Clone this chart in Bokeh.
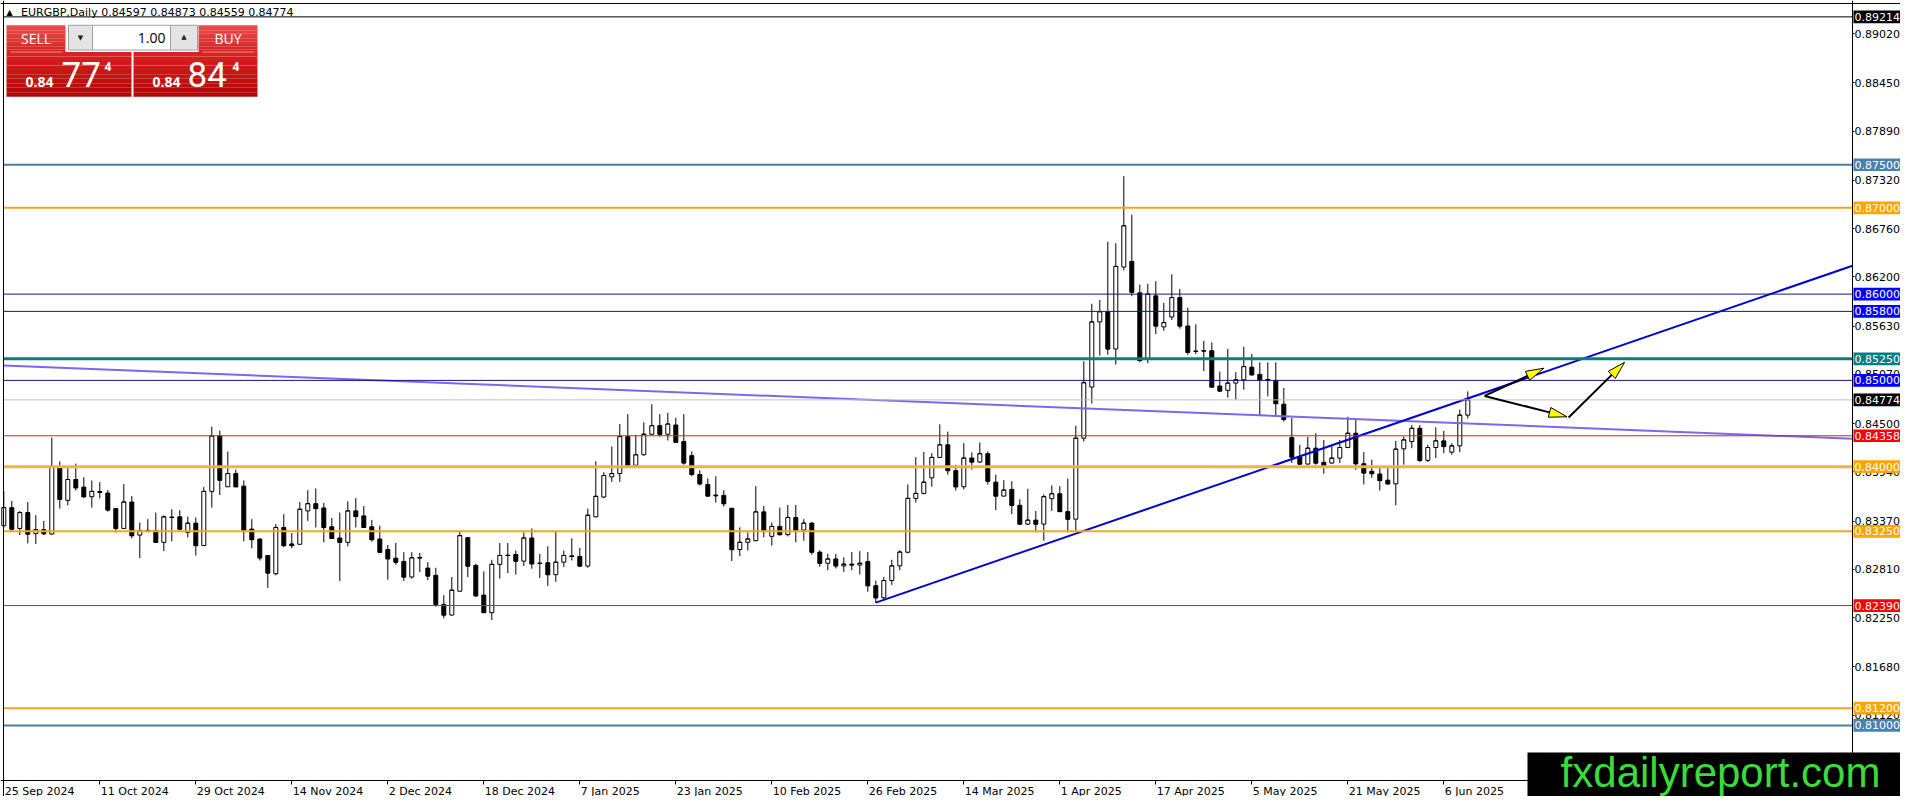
from bokeh.plotting import figure
from bokeh.models import (Range1d, FixedTicker, PrintfTickFormatter, Span, Label,
                          BoxAnnotation, ColumnDataSource)
from bokeh.embed import file_html
from bokeh.resources import INLINE

# ---------------- data ----------------
dates = ["25 Sep 2024", "11 Oct 2024", "29 Oct 2024", "14 Nov 2024", "2 Dec 2024",
         "18 Dec 2024", "7 Jan 2025", "23 Jan 2025", "10 Feb 2025", "26 Feb 2025",
         "14 Mar 2025", "1 Apr 2025", "17 Apr 2025", "5 May 2025", "21 May 2025", "6 Jun 2025"]
date_bars = [0, 12, 24, 36, 48, 60, 72, 84, 96, 108, 120, 132, 144, 156, 168, 180]

opens = [0.83315, 0.83525, 0.83284, 0.83468, 0.83223, 0.83269, 0.83219, 0.83996, 0.83609, 0.83851,
         0.83763, 0.83652, 0.83713, 0.83694, 0.83514, 0.83284, 0.83590, 0.83207, 0.83253, 0.83257,
         0.83123, 0.83410, 0.83418, 0.83238, 0.83345, 0.83085, 0.83713, 0.84356, 0.83767, 0.83920,
         0.83774, 0.83276, 0.83161, 0.82970, 0.82759, 0.83295, 0.83104, 0.83100, 0.83487, 0.83571,
         0.83521, 0.83303, 0.83173, 0.83123, 0.83487, 0.83429, 0.83303, 0.83161, 0.83039, 0.82939,
         0.82901, 0.82721, 0.82939, 0.82824, 0.82740, 0.82403, 0.82280, 0.82556, 0.83177, 0.82855,
         0.82511, 0.82308, 0.82867, 0.82974, 0.82982, 0.82905, 0.83173, 0.82882, 0.82886, 0.82748,
         0.82893, 0.82966, 0.82959, 0.82848, 0.83418, 0.83648, 0.83882, 0.83920, 0.84349, 0.84016,
         0.84138, 0.84376, 0.84475, 0.84376, 0.84483, 0.84291, 0.84127, 0.83909, 0.83794, 0.83671,
         0.83667, 0.83518, 0.83039, 0.83123, 0.83142, 0.83476, 0.83192, 0.83307, 0.83212, 0.83411,
         0.83265, 0.83345, 0.83009, 0.82880, 0.82930, 0.82850, 0.82870, 0.82860, 0.82900, 0.82620,
         0.82480, 0.82680, 0.82850, 0.83008, 0.83632, 0.83690, 0.83870, 0.84107, 0.84253, 0.83954,
         0.83767, 0.84100, 0.84054, 0.84150, 0.83820, 0.83659, 0.83736, 0.83552, 0.83334, 0.83380,
         0.83334, 0.83629, 0.83686, 0.83479, 0.83391, 0.84330, 0.84923, 0.85678, 0.85796, 0.85364,
         0.86314, 0.86379, 0.86015, 0.85248, 0.85980, 0.85620, 0.85735, 0.85960, 0.85631, 0.85340,
         0.85344, 0.85344, 0.84934, 0.84885, 0.84969, 0.85007, 0.85153, 0.85069, 0.85010, 0.84999,
         0.84724, 0.84337, 0.84111, 0.84030, 0.84214, 0.84050, 0.84042, 0.84099, 0.84222, 0.84387,
         0.84034, 0.83946, 0.83915, 0.83843, 0.83801, 0.84207, 0.84291, 0.84444, 0.84073, 0.84222,
         0.84299, 0.84168, 0.84241, 0.84597]
highs = [0.83717, 0.83602, 0.83487, 0.83590, 0.83437, 0.83372, 0.84337, 0.84061, 0.83996, 0.84035,
         0.83878, 0.83839, 0.83820, 0.83728, 0.83521, 0.83797, 0.83659, 0.83353, 0.83391, 0.83468,
         0.83437, 0.83506, 0.83495, 0.83422, 0.83410, 0.83763, 0.84464, 0.84418, 0.84176, 0.83966,
         0.83839, 0.83391, 0.83169, 0.82970, 0.83334, 0.83449, 0.83230, 0.83590, 0.83728, 0.83747,
         0.83579, 0.83406, 0.83468, 0.83598, 0.83636, 0.83544, 0.83383, 0.83315, 0.83092, 0.83115,
         0.83008, 0.83008, 0.83000, 0.82893, 0.82828, 0.82510, 0.82721, 0.83257, 0.83177, 0.82874,
         0.82786, 0.82920, 0.83116, 0.83116, 0.83028, 0.83238, 0.83284, 0.82989, 0.83077, 0.83246,
         0.83028, 0.83169, 0.83058, 0.83514, 0.84062, 0.83935, 0.84234, 0.84494, 0.84609, 0.84368,
         0.84514, 0.84724, 0.84609, 0.84625, 0.84567, 0.84609, 0.84177, 0.83958, 0.83863, 0.83889,
         0.83728, 0.83518, 0.83296, 0.83238, 0.83774, 0.83545, 0.83353, 0.83526, 0.83556, 0.83556,
         0.83391, 0.83360, 0.83030, 0.82990, 0.82990, 0.82950, 0.83010, 0.83020, 0.83010, 0.82680,
         0.82720, 0.82920, 0.83030, 0.83793, 0.84111, 0.84169, 0.84157, 0.84490, 0.84406, 0.84023,
         0.84272, 0.84165, 0.84280, 0.84176, 0.83908, 0.83843, 0.83832, 0.83621, 0.83744, 0.83487,
         0.83678, 0.83782, 0.83774, 0.83862, 0.84475, 0.85222, 0.85888, 0.85931, 0.86608, 0.86589,
         0.87367, 0.86922, 0.86110, 0.86120, 0.86150, 0.85900, 0.86230, 0.86060, 0.85842, 0.85650,
         0.85459, 0.85440, 0.85103, 0.85363, 0.85095, 0.85390, 0.85306, 0.85210, 0.85210, 0.85210,
         0.84911, 0.84567, 0.84253, 0.84348, 0.84387, 0.84310, 0.84241, 0.84310, 0.84578, 0.84540,
         0.84168, 0.84080, 0.83992, 0.84004, 0.84299, 0.84348, 0.84482, 0.84482, 0.84253, 0.84456,
         0.84413, 0.84272, 0.84662, 0.84873]
lows = [0.83295, 0.83257, 0.83207, 0.83111, 0.83104, 0.83207, 0.83211, 0.83514, 0.83552, 0.83724,
        0.83636, 0.83525, 0.83632, 0.83479, 0.83238, 0.83276, 0.83169, 0.82939, 0.83238, 0.83123,
        0.83020, 0.83135, 0.83265, 0.83180, 0.82970, 0.83085, 0.83525, 0.83671, 0.83767, 0.83767,
        0.83135, 0.83054, 0.82912, 0.82595, 0.82740, 0.83066, 0.83054, 0.83100, 0.83372, 0.83295,
        0.83123, 0.83161, 0.82675, 0.83077, 0.83295, 0.83295, 0.83131, 0.82997, 0.82690, 0.82863,
        0.82675, 0.82702, 0.82778, 0.82683, 0.82376, 0.82242, 0.82273, 0.82549, 0.82721, 0.82491,
        0.82308, 0.82223, 0.82702, 0.82767, 0.82748, 0.82848, 0.82817, 0.82710, 0.82618, 0.82664,
        0.82836, 0.82913, 0.82836, 0.82828, 0.83411, 0.83633, 0.83824, 0.83824, 0.84016, 0.83993,
        0.84127, 0.84368, 0.84349, 0.84303, 0.84284, 0.84023, 0.83889, 0.83782, 0.83648, 0.83583,
        0.83537, 0.82905, 0.82963, 0.83028, 0.83135, 0.83181, 0.83085, 0.83200, 0.83192, 0.83123,
        0.83142, 0.82980, 0.82840, 0.82800, 0.82820, 0.82780, 0.82800, 0.82750, 0.82550, 0.82420,
        0.82450, 0.82630, 0.82800, 0.82995, 0.83583, 0.83678, 0.83767, 0.84100, 0.83908, 0.83724,
        0.83736, 0.83966, 0.84042, 0.83793, 0.83495, 0.83652, 0.83449, 0.83326, 0.83322, 0.83238,
        0.83142, 0.83487, 0.83479, 0.83238, 0.83257, 0.84291, 0.84732, 0.85287, 0.85299, 0.85184,
        0.86275, 0.85976, 0.85211, 0.85200, 0.85536, 0.85574, 0.85700, 0.85600, 0.85298, 0.85306,
        0.85107, 0.84915, 0.84865, 0.84800, 0.84777, 0.84892, 0.85057, 0.84597, 0.84816, 0.84597,
        0.84521, 0.84042, 0.84023, 0.84023, 0.84023, 0.83919, 0.84034, 0.84042, 0.84214, 0.83965,
        0.83793, 0.83870, 0.83724, 0.83793, 0.83552, 0.84023, 0.84214, 0.84053, 0.84053, 0.84099,
        0.84157, 0.84138, 0.84168, 0.84559]
closes = [0.83525, 0.83276, 0.83468, 0.83219, 0.83269, 0.83223, 0.84004, 0.83621, 0.83851, 0.83755,
          0.83652, 0.83713, 0.83701, 0.83498, 0.83284, 0.83590, 0.83200, 0.83257, 0.83261, 0.83123,
          0.83418, 0.83414, 0.83276, 0.83345, 0.83085, 0.83713, 0.84356, 0.83843, 0.83920, 0.83767,
          0.83265, 0.83154, 0.82943, 0.82767, 0.83295, 0.83085, 0.83085, 0.83506, 0.83571, 0.83514,
          0.83295, 0.83169, 0.83123, 0.83487, 0.83422, 0.83295, 0.83154, 0.83008, 0.82932, 0.82893,
          0.82721, 0.82943, 0.82947, 0.82732, 0.82403, 0.82280, 0.82568, 0.83200, 0.82847, 0.82503,
          0.82308, 0.82867, 0.82970, 0.82970, 0.82905, 0.83173, 0.82874, 0.82878, 0.82748, 0.82893,
          0.82970, 0.82959, 0.82848, 0.83437, 0.83656, 0.83897, 0.83920, 0.84349, 0.84016, 0.84138,
          0.84376, 0.84475, 0.84376, 0.84494, 0.84284, 0.84043, 0.83909, 0.83801, 0.83660, 0.83663,
          0.83571, 0.83039, 0.83123, 0.83162, 0.83476, 0.83265, 0.83307, 0.83212, 0.83411, 0.83265,
          0.83345, 0.83009, 0.82880, 0.82930, 0.82850, 0.82870, 0.82860, 0.82880, 0.82620, 0.82480,
          0.82680, 0.82850, 0.83010, 0.83632, 0.83690, 0.83820, 0.84107, 0.84253, 0.83954, 0.83767,
          0.84100, 0.84054, 0.84150, 0.83832, 0.83659, 0.83728, 0.83552, 0.83334, 0.83380, 0.83334,
          0.83652, 0.83686, 0.83479, 0.83391, 0.84330, 0.84973, 0.85678, 0.85796, 0.85364, 0.86321,
          0.86792, 0.86022, 0.85230, 0.86000, 0.85631, 0.85670, 0.85960, 0.85631, 0.85325, 0.85336,
          0.85340, 0.84923, 0.84877, 0.84969, 0.85007, 0.85160, 0.85065, 0.85007, 0.85003, 0.84731,
          0.84547, 0.84111, 0.84030, 0.84214, 0.84042, 0.84011, 0.84099, 0.84222, 0.84387, 0.84034,
          0.83927, 0.83919, 0.83839, 0.83801, 0.84203, 0.84310, 0.84444, 0.84073, 0.84222, 0.84299,
          0.84233, 0.84241, 0.84597, 0.84774]

price_ticks = [0.89020, 0.88450, 0.87890, 0.87320, 0.86760, 0.86200, 0.85630, 0.85070,
               0.84500, 0.83940, 0.83370, 0.82810, 0.82250, 0.81680, 0.81120, 0.80550]

level_prices = [0.89214, 0.87500, 0.87000, 0.86000, 0.85800, 0.85250, 0.85000, 0.84774,
                0.84358, 0.84000, 0.83250, 0.82390, 0.81200, 0.81000]
level_line_colors = ["#000000", "#4A80A8", "#F2A623", "#14148C", "#14148C", "#0E7C78", "#14148C",
                     "#C0C0C0", "#C8282C", "#EFB443", "#F2A623", "#C8282C", "#F2A623", "#4A80A8"]
level_line_widths = [1, 2, 2, 1, 1, 3, 1, 1, 1, 3, 2, 1, 2, 2]
level_label_colors = ["#000000", "#4682B4", "#FFA500", "#0000FF", "#0000FF", "#008080", "#0000FF",
                      "#000000", "#FF0000", "#FFA500", "#FFA500", "#FF0000", "#FFA500", "#4682B4"]

trend_x = [109, 183]            # rising support line (bar index)
trend_y = [0.82424, 0.84791]
channel_x = [0, 183]            # falling line
channel_y = [0.85172, 0.84500]

arrow_x0 = [185.1, 185.1, 195.6]
arrow_y0 = [0.84820, 0.84820, 0.84570]
arrow_x1 = [192.5, 195.4, 202.6]
arrow_y1 = [0.85141, 0.84578, 0.85210]

title_text = "EURGBP,Daily  0.84597 0.84873 0.84559 0.84774"
lot_text = "1.00"
sell_price = ("0.84", "77", "4")
buy_price = ("0.84", "84", "4")
watermark = "fxdailyreport.com"

# ---------------- layout helpers (reference pixel -> data units) ----------------
def X(px):
    return (px - 3.3) / 8.0


def Y(py):
    return 0.875 + (165.7 - py) / 8704.0


PX_Y = 1.0 / 8704.0            # one reference pixel in price units

FIG_W, FIG_H = 1900, 796
SY = 780.0 / 787.0             # slight vertical squeeze so the date row fits
xa0, xa1 = X(0), X(FIG_W)
ya0, ya1 = Y(FIG_H / SY), Y(0)


def Yf(fy):                     # figure pixel row -> price units
    return Y(fy / SY)


xl, xr = X(3), X(1852)      # chart area left / right (price axis)
yb = Y(787)                 # chart area bottom (time axis)

p = figure(width=FIG_W, height=FIG_H, x_range=Range1d(xa0, xa1), y_range=Range1d(ya0, ya1),
           output_backend="svg", toolbar_location=None, y_axis_location="right",
           x_axis_location="below", min_border=0)
p.grid.visible = False
p.outline_line_color = None
p.background_fill_color = "white"
p.border_fill_color = "white"

FONT = "DejaVu Sans"
# price axis
p.yaxis.fixed_location = xr
p.yaxis.ticker = FixedTicker(ticks=price_ticks)
p.yaxis.formatter = PrintfTickFormatter(format="%.5f")
p.yaxis.major_label_text_font = FONT
p.yaxis.major_label_text_font_size = "11px"
p.yaxis.major_label_text_color = "black"
# time axis: tick marks from the axis, labels start at their tick (terminal style)
p.xaxis.fixed_location = yb
p.xaxis.ticker = FixedTicker(ticks=date_bars)
p.xaxis.major_label_overrides = {b: "" for b in date_bars}
for ax in (p.xaxis, p.yaxis):
    ax.axis_line_color = "black"
    ax.major_tick_line_color = "black"
    ax.major_tick_in = 0
    ax.minor_tick_out = 0
    ax.minor_tick_in = 0
p.xaxis.major_tick_out = 4
p.yaxis.major_tick_out = 2
p.yaxis.major_label_standoff = 0
for b, d in zip(date_bars, dates):
    p.add_layout(Label(x=b, y=Yf(790.5), text=d, text_font=FONT, text_font_size="11px",
                       text_color="black", text_align="left", text_baseline="middle",
                       x_offset=1))

# window borders
p.add_layout(Span(location=Y(3), dimension="width", line_color="black", line_width=1))
p.add_layout(Span(location=xl, dimension="height", line_color="black", line_width=1))

# ---------------- candles ----------------
idx = list(range(len(opens)))
src = ColumnDataSource(dict(
    x=idx, o=opens, h=highs, l=lows, c=closes,
    top=[max(o, c) for o, c in zip(opens, closes)],
    bot=[min(o, c) for o, c in zip(opens, closes)],
    fill=["white" if c >= o else "black" for o, c in zip(opens, closes)],
    xl=[i - 0.25 for i in idx], xr=[i + 0.25 for i in idx],
))
p.segment(x0="x", y0="l", x1="x", y1="h", source=src, line_color="black", line_width=1)
p.vbar(x="x", width=0.5, top="top", bottom="bot", source=src,
       fill_color="fill", line_color="black", line_width=1)
p.segment(x0="xl", y0="c", x1="xr", y1="c", source=src, line_color="black", line_width=1)

# ---------------- trend lines ----------------
ch_slope = (channel_y[1] - channel_y[0]) / (channel_x[1] - channel_x[0])
p.line([xl, xr], [channel_y[0] + ch_slope * (xl - channel_x[0]),
                  channel_y[0] + ch_slope * (xr - channel_x[0])],
       line_color="#7B68EE", line_width=2)
tr_slope = (trend_y[1] - trend_y[0]) / (trend_x[1] - trend_x[0])
p.line([trend_x[0], xr], [trend_y[0], trend_y[0] + tr_slope * (xr - trend_x[0])],
       line_color="#0000CD", line_width=2)

# ---------------- horizontal levels ----------------
n_lv = len(level_prices)
p.segment(x0=[xl] * n_lv, y0=level_prices, x1=[xr] * n_lv, y1=level_prices,
          line_color=level_line_colors, line_width=level_line_widths)

# ---------------- arrows ----------------
kx = FIG_W / (xa1 - xa0)
ky = FIG_H / (ya1 - ya0)
hx, hy = [], []
for xa, ya, xb, yb_ in zip(arrow_x0, arrow_y0, arrow_x1, arrow_y1):
    dx, dy = (xb - xa) * kx, (yb_ - ya) * ky
    d = (dx * dx + dy * dy) ** 0.5
    ux, uy = dx / d, dy / d
    L, Wd = 18.0, 10.0
    bx, by = xb - ux * L / kx, yb_ - uy * L / ky
    px_, py_ = -uy * Wd / 2, ux * Wd / 2
    p.line([xa, bx], [ya, by], line_color="black", line_width=2)
    hx.append([xb, bx + px_ / kx, bx - px_ / kx])
    hy.append([yb_, by + py_ / ky, by - py_ / ky])
p.patches(hx, hy, fill_color="#FFFF00", line_color="black", line_width=1)

# ---------------- price labels on the axis ----------------
for price, col in zip(level_prices, level_label_colors):
    p.add_layout(BoxAnnotation(left=X(1853), right=xa1, bottom=price - 6.4 * PX_Y,
                               top=price + 6.4 * PX_Y, fill_color=col, fill_alpha=1.0,
                               line_color=None))
    p.add_layout(Label(x=X(1854), y=price, text=f"{price:.5f}", text_font=FONT,
                       text_font_size="11px", text_color="white", text_baseline="middle",
                       text_align="left"))

# ---------------- title ----------------
p.add_layout(Label(x=X(6), y=Y(12.5), text="\u25B2", text_font=FONT, text_font_size="8px",
                   text_color="black", text_baseline="middle", text_align="left"))
p.add_layout(Label(x=X(20.5), y=Y(12.5), text=title_text, text_font=FONT, text_font_size="11px",
                   text_color="black", text_baseline="middle", text_align="left"))

# ---------------- one-click trading panel ----------------
def hexmix(c1, c2, t):
    a = [int(c1[i:i + 2], 16) for i in (1, 3, 5)]
    b = [int(c2[i:i + 2], 16) for i in (1, 3, 5)]
    return "#%02x%02x%02x" % tuple(round(a[k] + (b[k] - a[k]) * t) for k in range(3))


ql, qr, qt, qb, qc = [], [], [], [], []


def grad(x_a, x_b, y_a0, y_b0, ctop, cbot, n=10):
    for i in range(n):
        y_a = y_a0 + (y_b0 - y_a0) * i / n
        y_b = y_a0 + (y_b0 - y_a0) * (i + 1) / n
        ql.append(X(x_a)); qr.append(X(x_b)); qt.append(Y(y_a)); qb.append(Y(y_b))
        qc.append(hexmix(ctop, cbot, i / (n - 1)))


grad(6, 65, 25, 52, "#E84A4A", "#D42626")
grad(198, 257, 25, 52, "#E84A4A", "#D42626")
grad(6, 131, 52, 97, "#DA2020", "#B20808")
grad(133, 257, 52, 97, "#DA2020", "#B20808")
p.quad(left=ql, right=qr, top=qt, bottom=qb, fill_color=qc, line_color=None)
p.segment(x0=[X(10), X(202)], y0=[Y(52), Y(52)], x1=[X(62), X(254)], y1=[Y(52), Y(52)],
          line_color="#F08A8A", line_width=1)
p.quad(left=[X(68), X(92), X(170)], right=[X(92), X(170), X(197)],
       top=[Y(25)] * 3, bottom=[Y(50)] * 3,
       fill_color=["#E4E4E4", "#FFFFFF", "#E4E4E4"], line_color="#A0A0A0", line_width=1)

UI = "Open Sans"
p.add_layout(Label(x=X(35.5), y=Y(38.5), text="SELL", text_font=UI, text_font_size="14px",
                   text_color="white", text_align="center", text_baseline="middle"))
p.add_layout(Label(x=X(227.5), y=Y(38.5), text="BUY", text_font=UI, text_font_size="14px",
                   text_color="white", text_align="center", text_baseline="middle"))
p.add_layout(Label(x=X(165), y=Y(37.5), text=lot_text, text_font=UI, text_font_size="14px",
                   text_color="black", text_align="right", text_baseline="middle"))
p.add_layout(Label(x=X(80), y=Y(38), text="\u25BC", text_font=FONT, text_font_size="7px",
                   text_color="#202020", text_align="center", text_baseline="middle"))
p.add_layout(Label(x=X(183.5), y=Y(37), text="\u25B2", text_font=FONT, text_font_size="7px",
                   text_color="#202020", text_align="center", text_baseline="middle"))

for (small, big, sup), x_small, x_big, x_sup in ((sell_price, 25, 61, 104), (buy_price, 152, 187, 232)):
    p.add_layout(Label(x=X(x_small), y=Y(82.5), text=small, text_font=UI, text_font_size="14px",
                       text_font_style="bold", text_color="white", text_align="left",
                       text_baseline="middle"))
    p.add_layout(Label(x=X(x_big), y=Y(75), text=big, text_font="Roboto",
                       text_font_size="35px", text_color="white", text_align="left",
                       text_baseline="middle"))
    p.add_layout(Label(x=X(x_sup), y=Y(66.5), text=sup, text_font=UI, text_font_size="12px",
                       text_font_style="bold", text_color="white", text_align="left",
                       text_baseline="middle"))

# ---------------- watermark ----------------
p.add_layout(BoxAnnotation(left=X(1527), right=xa1, bottom=ya0, top=Yf(752),
                           fill_color="black", fill_alpha=1.0, line_color=None))
p.add_layout(Label(x=X(1720), y=Yf(772), text=watermark, text_font="Liberation Sans",
                   text_font_size="42px", text_color="#3ADB3A", text_align="center",
                   text_baseline="middle"))

open("out.html", "w").write(file_html(p, INLINE))
